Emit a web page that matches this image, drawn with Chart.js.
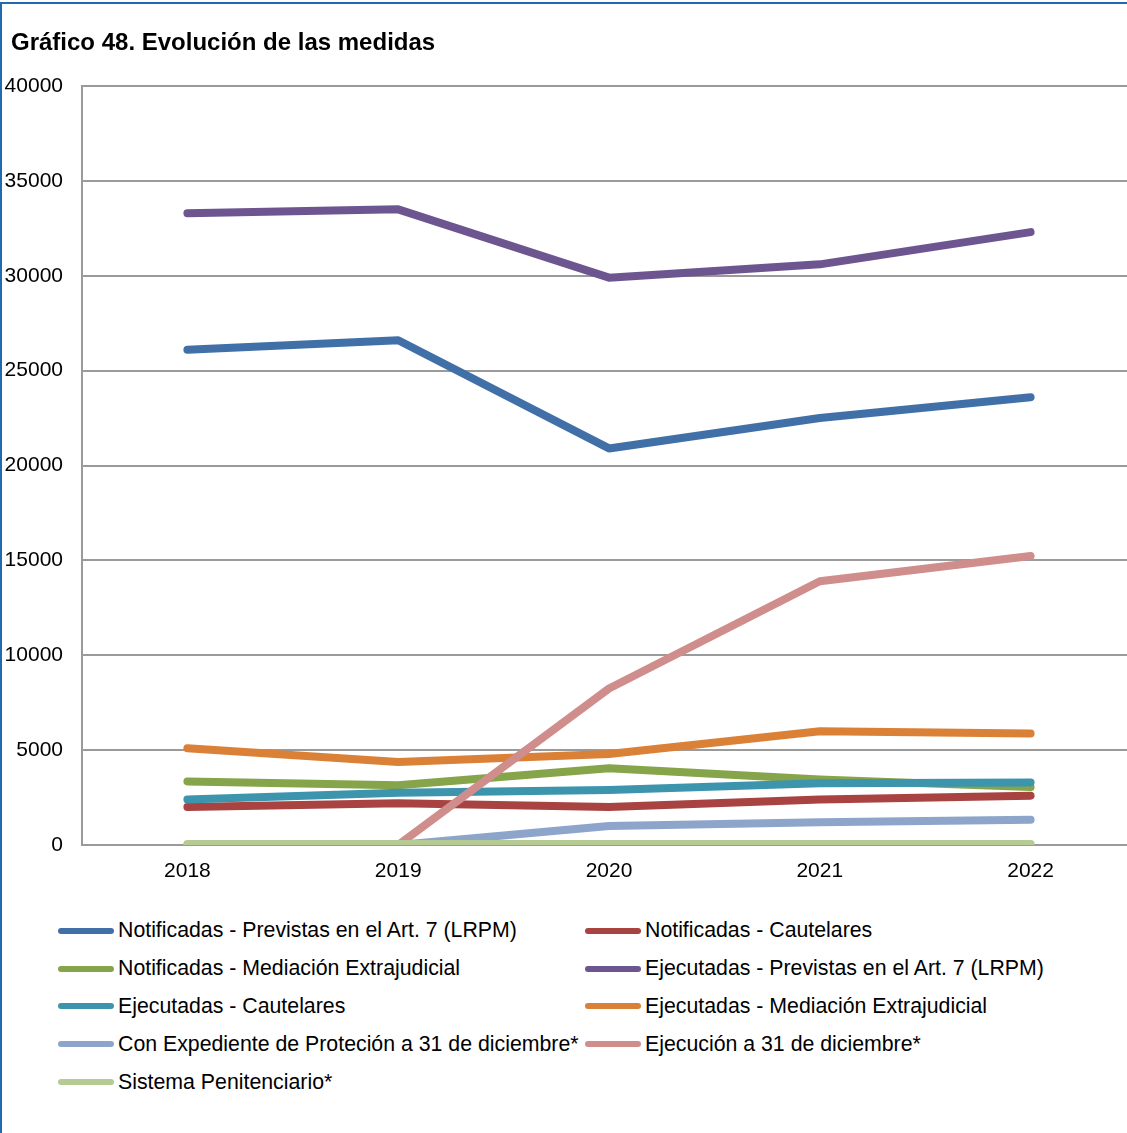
<!DOCTYPE html>
<html>
<head>
<meta charset="utf-8">
<script src="https://cdn.jsdelivr.net/npm/chart.js@4.4.0/dist/chart.umd.min.js"></script>
<style>
  html, body { margin: 0; padding: 0; background: #fff; overflow: hidden; width: 1127px; height: 1133px; }
  #frame { position: absolute; left: 0; top: 2px; width: 1200px; height: 1200px;
           border-top: 2px solid #2369AE; border-left: 2px solid #2369AE; box-sizing: border-box; }
  #title { position: absolute; left: 11px; top: 28px; line-height: 24px; white-space: nowrap;
           font: bold 24px "Liberation Sans", Arial, sans-serif; color: #000; }
  #wrap { position: absolute; left: 0; top: 0; width: 1140px; height: 900px; }
  #legend { position: absolute; left: 58px; top: 912px; display: grid;
            grid-template-columns: 527px 527px; font: 21.3px "Liberation Sans", Arial, sans-serif; color: #000; }
  .item { display: flex; align-items: center; height: 37.8px; white-space: nowrap; }
  .swatch { width: 56px; height: 6px; border-radius: 3px; margin-right: 4px; flex: none; }
</style>
</head>
<body>
<div id="frame"></div>
<div id="wrap"><canvas id="medidas"></canvas></div>
<div id="title">Gráfico 48. Evolución de las medidas</div>
<div id="legend"></div>
<script>
// Data
const years = ['2018', '2019', '2020', '2021', '2022'];
const notifPrevistas = [26100, 26600, 20900, 22500, 23600];
const notifCautelares = [2000, 2200, 2000, 2400, 2600];
const notifMediacion = [3350, 3150, 4050, 3450, 3050];
const ejecPrevistas = [33300, 33500, 29900, 30600, 32300];
const ejecCautelares = [2400, 2750, 2900, 3250, 3300];
const ejecMediacion = [5100, 4380, 4800, 6000, 5880];
const conExpediente = [0, 0, 1000, 1200, 1330];
const ejecucionDic = [null, 0, 8250, 13900, 15230];
const sistemaPenit = [50, 50, 50, 50, 50];
const yTicks = [0, 5000, 10000, 15000, 20000, 25000, 30000, 35000, 40000];

const seriesNames = [
  'Notificadas - Previstas en el Art. 7 (LRPM)',
  'Notificadas - Cautelares',
  'Notificadas - Mediación Extrajudicial',
  'Ejecutadas - Previstas en el Art. 7 (LRPM)',
  'Ejecutadas - Cautelares',
  'Ejecutadas - Mediación Extrajudicial',
  'Con Expediente de Proteción a 31 de diciembre*',
  'Ejecución a 31 de diciembre*',
  'Sistema Penitenciario*'
];
const seriesValues = [notifPrevistas, notifCautelares, notifMediacion, ejecPrevistas,
  ejecCautelares, ejecMediacion, conExpediente, ejecucionDic, sistemaPenit];
const seriesColors = ['#4170A8', '#A84342', '#86A44A', '#6D5590', '#3D95AD',
  '#DA8137', '#8DA5CB', '#CF8D8C', '#B5CB93'];

const font = "'Liberation Sans', Arial, sans-serif";
const gridColor = '#9a9a9a';

// later series on top, like the original
const datasets = seriesNames.map((name, i) => ({
  label: name,
  data: seriesValues[i],
  borderColor: seriesColors[i],
  backgroundColor: seriesColors[i],
  borderWidth: 8,
  borderCapStyle: 'round',
  borderJoinStyle: 'round',
  pointRadius: 0,
  tension: 0,
  spanGaps: false,
  order: -i
}));

const htmlLegend = {
  id: 'htmlLegend',
  afterUpdate(chart) {
    const box = document.getElementById('legend');
    box.innerHTML = '';
    chart.data.datasets.forEach((ds) => {
      const item = document.createElement('div');
      item.className = 'item';
      const sw = document.createElement('span');
      sw.className = 'swatch';
      sw.style.background = ds.borderColor;
      const txt = document.createElement('span');
      txt.textContent = ds.label;
      item.appendChild(sw);
      item.appendChild(txt);
      box.appendChild(item);
    });
  }
};

new Chart('medidas', {
  type: 'line',
  data: { labels: years, datasets: datasets },
  plugins: [htmlLegend],
  options: {
    responsive: true,
    maintainAspectRatio: false,
    animation: false,
    layout: { padding: { left: 0, right: 4, top: 86, bottom: 0 } },
    plugins: {
      legend: { display: false },
      tooltip: { enabled: false },
      title: { display: false }
    },
    scales: {
      x: {
        offset: true,
        grid: { display: false, drawTicks: false, offset: true },
        border: { display: true, color: gridColor, width: 2 },
        ticks: { color: '#000', font: { family: font, size: 21 }, padding: 14 },
        afterFit(scale) { scale.height = 55; }
      },
      y: {
        min: 0,
        max: 40000,
        afterBuildTicks(scale) { scale.ticks = yTicks.map(v => ({ value: v })); },
        grid: { color: gridColor, lineWidth: 2, drawTicks: false },
        border: { display: true, color: gridColor, width: 2 },
        ticks: { color: '#000', font: { family: font, size: 21 }, padding: 19,
                 callback: (v) => String(v) },
        afterFit(scale) { scale.width = 82; }
      }
    }
  }
});
</script>
</body>
</html>
